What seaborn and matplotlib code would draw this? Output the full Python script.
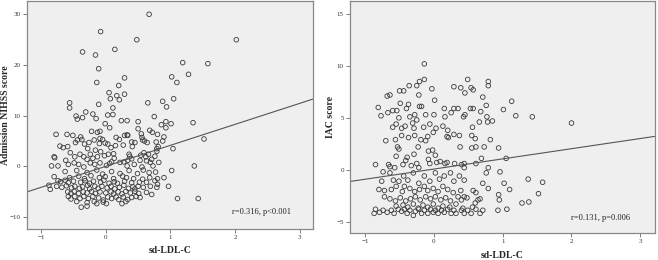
import numpy as np
import matplotlib
matplotlib.use('Agg')
import matplotlib.pyplot as plt
import seaborn as sns

# sd-LDL-C vs admission NIHSS score (left panel)
nihss_pts = [
    (0.67, 29.9), (-0.08, 26.5), (0.48, 24.9), (2.02, 24.9), (-0.36, 22.5), (0.14, 23.0),
    (-0.16, 21.9), (1.19, 20.4), (1.58, 20.2), (-0.11, 19.2), (1.28, 18.1), (1.02, 17.6),
    (0.29, 17.4), (-0.14, 16.5), (1.10, 16.5), (0.20, 15.9), (0.05, 14.5), (0.29, 14.2),
    (0.17, 13.9), (0.07, 13.3), (0.21, 13.1), (1.05, 13.3), (0.65, 12.5), (0.88, 12.8),
    (0.94, 11.7), (-0.56, 12.5), (-0.56, 11.5), (-0.11, 12.2), (0.11, 11.5), (-0.31, 10.7),
    (-0.20, 10.3), (-0.46, 9.9), (-0.44, 9.3), (-0.36, 9.6), (-0.15, 9.4), (0.03, 10.1),
    (0.11, 10.2), (0.24, 9.0), (0.33, 9.0), (0.75, 9.8), (0.50, 8.8), (0.93, 8.8),
    (0.86, 8.2), (1.01, 8.4), (1.35, 8.6), (-0.01, 8.4), (0.06, 7.6), (0.50, 7.4),
    (0.93, 7.6), (-0.77, 6.3), (-0.60, 6.3), (0.68, 7.1), (0.72, 6.7), (0.80, 6.3),
    (-0.51, 6.1), (-0.39, 5.8), (-0.13, 6.7), (-0.09, 6.9), (-0.22, 6.9), (0.29, 6.1),
    (0.33, 6.2), (0.55, 6.4), (1.52, 5.4), (0.90, 5.8), (0.56, 5.7),
    (-0.71, 4.0), (-0.66, 3.7), (-0.59, 3.9), (-0.44, 5.2), (-0.47, 4.7), (-0.37, 5.3),
    (-0.33, 4.4), (-0.26, 4.7), (-0.28, 3.5), (-0.18, 5.2), (-0.09, 5.5), (-0.05, 5.3),
    (-0.01, 4.6), (0.03, 4.4), (-0.10, 4.5), (-0.16, 3.2), (-0.08, 2.9), (0.08, 3.7),
    (0.15, 4.1), (0.16, 5.7), (0.21, 5.3), (0.27, 4.2), (0.34, 6.1), (0.40, 4.8),
    (0.45, 4.7), (0.41, 3.9), (0.57, 5.2), (0.60, 5.0), (0.64, 4.7), (0.78, 4.8),
    (0.88, 5.0), (0.81, 3.9), (0.79, 3.5), (1.04, 3.5), (1.37, 0.1), (1.02, -0.8),
    (-0.55, 2.7), (-0.48, 1.9), (-0.40, 2.4), (-0.34, 1.9), (-0.24, 2.4), (-0.29, 1.4),
    (-0.20, 1.6), (-0.13, 1.9), (-0.02, 2.1), (0.04, 2.4), (0.12, 2.5), (0.13, 1.6),
    (0.36, 2.4), (0.37, 2.0), (0.40, 1.5), (0.54, 2.2), (0.59, 2.7), (0.66, 2.4),
    (0.62, 1.9), (0.71, 1.4), (0.76, 2.0), (0.79, 3.0), (-0.80, 1.9), (-0.79, 1.7),
    (-0.84, 0.1), (-0.74, 0.1), (-0.62, 1.2), (-0.58, 0.4), (-0.49, 0.7), (-0.42, 0.4),
    (-0.34, -0.1), (-0.24, 0.7), (-0.17, 0.4), (-0.09, 0.7), (0.01, 0.2), (0.06, 0.6),
    (0.09, 0.9), (0.22, 0.8), (0.28, 0.9), (0.34, 1.2), (0.33, 0.1), (0.44, 0.4),
    (0.53, 1.2), (0.63, 1.1), (0.69, 0.8), (0.73, 0.1), (0.82, 0.8), (0.56, -0.1),
    (-0.63, -1.0), (-0.45, -0.8), (-0.29, -1.2), (-0.14, -0.7), (-0.05, -1.5), (0.09, -1.0),
    (0.22, -1.4), (0.36, -0.8), (0.49, -1.4), (0.58, -0.7), (0.67, -1.2), (0.77, -1.1),
    (-0.80, -2.0), (-0.56, -2.2), (-0.42, -1.9), (-0.33, -2.4), (-0.23, -1.8), (-0.10, -2.2),
    (-0.01, -2.0), (0.12, -2.4), (0.26, -1.9), (0.32, -2.2), (0.43, -2.4), (0.57, -2.5),
    (0.68, -2.2), (0.80, -2.4), (0.90, -2.2),
    (-0.88, -3.7), (-0.74, -2.8), (-0.70, -3.0), (-0.63, -2.7), (-0.58, -3.2), (-0.50, -2.9),
    (-0.39, -3.1), (-0.32, -2.8), (-0.25, -3.3), (-0.19, -2.9), (-0.08, -3.1), (-0.03, -2.7),
    (0.05, -3.3), (0.13, -3.0), (0.18, -3.3), (0.29, -2.9), (0.40, -3.2), (0.52, -3.1),
    (0.63, -3.1), (0.76, -2.8), (0.80, -3.5),
    (-0.86, -4.5), (-0.76, -3.9), (-0.68, -4.1), (-0.61, -3.8), (-0.53, -4.2), (-0.48, -3.9),
    (-0.41, -4.3), (-0.36, -4.0), (-0.28, -3.7), (-0.25, -4.4), (-0.17, -3.9), (-0.12, -4.3),
    (-0.06, -3.9), (0.02, -4.2), (0.08, -3.9), (0.14, -4.4), (0.21, -4.1), (0.28, -3.7),
    (0.35, -4.3), (0.42, -4.0), (0.45, -4.4), (0.50, -3.9), (0.58, -4.1), (0.69, -3.9),
    (0.79, -4.1), (0.97, -3.9),
    (-0.59, -5.0), (-0.54, -5.3), (-0.49, -4.9), (-0.42, -5.3), (-0.35, -5.0), (-0.29, -5.2),
    (-0.22, -4.9), (-0.16, -5.3), (-0.09, -5.0), (0.00, -5.2), (0.08, -5.0), (0.12, -5.4),
    (0.19, -5.0), (0.25, -5.4), (0.31, -4.9), (0.38, -5.2), (0.45, -4.9), (0.51, -5.3),
    (0.63, -5.1), (0.71, -5.5),
    (-0.58, -5.9), (-0.54, -6.4), (-0.48, -5.9), (-0.40, -6.3), (-0.34, -5.9), (-0.27, -6.3),
    (-0.20, -5.9), (-0.11, -6.2), (-0.04, -6.6), (0.03, -6.0), (0.09, -6.3), (0.16, -6.0),
    (0.20, -6.5), (0.27, -6.0), (0.34, -6.5), (0.40, -6.1), (0.47, -5.9), (0.53, -6.1),
    (1.11, -6.3), (1.43, -6.3),
    (-0.45, -6.9), (-0.29, -7.1), (-0.18, -6.9), (-0.14, -7.3), (-0.04, -7.0), (0.01, -7.3),
    (0.25, -7.3), (0.31, -6.9), (-0.38, -8.0), (-0.29, -7.8),
]

# sd-LDL-C vs IAC score (right panel)
iac_pts = [
    (-0.14, 10.2), (-0.14, 8.7), (-0.21, 8.5), (-0.25, 8.1), (-0.36, 8.1), (-0.03, 7.8),
    (-0.64, 7.2), (-0.68, 7.1), (-0.50, 7.6), (-0.44, 7.6), (-0.22, 7.2), (0.29, 8.0),
    (0.39, 7.9), (0.49, 8.7), (0.45, 7.4), (0.54, 7.9), (0.57, 7.7), (0.79, 8.5),
    (0.79, 8.1), (0.71, 7.0), (0.01, 6.7), (-0.49, 6.4), (-0.37, 6.3), (0.76, 6.2),
    (1.13, 6.6), (1.01, 5.8), (1.19, 5.2), (1.43, 5.1), (2.00, 4.5), (-0.81, 6.0),
    (-0.77, 5.2), (-0.60, 5.7), (-0.54, 5.7), (-0.67, 5.5), (-0.40, 5.9), (-0.21, 6.1),
    (-0.18, 6.1), (-0.28, 5.3), (-0.35, 5.1), (-0.25, 4.8), (-0.12, 5.3), (0.00, 5.3),
    (0.15, 5.9), (0.16, 5.1), (0.29, 5.9), (0.35, 5.9), (0.25, 5.5), (0.43, 5.1),
    (0.45, 5.3), (0.53, 5.9), (0.57, 5.9), (0.68, 5.6), (0.77, 5.1), (0.85, 4.7),
    (0.78, 4.6), (0.66, 4.6), (0.56, 4.1), (-0.51, 5.0), (-0.55, 4.4), (-0.60, 4.1),
    (-0.47, 4.0), (-0.42, 4.2), (-0.31, 4.5), (-0.29, 4.0), (-0.15, 4.1), (-0.06, 4.4),
    (0.03, 4.0), (0.13, 4.2), (0.20, 3.8), (-0.01, 3.6), (-0.09, 3.2), (-0.19, 2.9),
    (-0.28, 3.3), (-0.37, 3.1), (-0.47, 3.3), (-0.56, 2.9), (-0.70, 2.8), (0.19, 3.2),
    (0.21, 3.1), (0.29, 3.4), (0.37, 3.3), (0.55, 3.3), (0.60, 3.0), (0.82, 2.9),
    (-0.53, 2.2), (-0.51, 2.0), (-0.12, 2.8), (-0.23, 2.2), (-0.29, 1.5), (-0.08, 1.8),
    (-0.02, 1.9), (0.02, 1.4), (0.38, 2.2), (0.55, 2.1), (0.61, 2.2), (0.73, 2.2),
    (0.94, 2.1), (1.05, 1.1), (0.69, 1.1), (0.61, 0.6), (-0.55, 1.3), (-0.39, 1.2),
    (-0.41, 0.9), (-0.45, 0.5), (-0.85, 0.5), (-0.66, 0.5), (-0.64, 0.3), (-0.57, 0.2),
    (-0.33, 0.4), (-0.25, 0.6), (-0.22, 0.2), (-0.08, 1.0), (-0.06, 0.6), (0.04, 0.7),
    (0.09, 0.8), (0.16, 0.6), (0.19, 0.7), (0.30, 0.6), (0.40, 0.5), (0.44, 0.6),
    (0.44, 0.2), (0.79, 0.2), (0.76, -0.3), (0.96, -0.2), (1.02, -1.3), (1.10, -1.9),
    (1.37, -0.9), (1.58, -1.2), (1.52, -2.3), (1.28, -3.2), (1.38, -3.1), (0.94, -2.4),
    (0.95, -2.9), (0.93, -3.9), (1.06, -3.8), (0.79, -1.8), (0.71, -1.3), (0.61, -2.2),
    (0.57, -2.0), (0.64, -2.9), (0.67, -2.8), (0.56, -3.6), (0.60, -3.2), (0.48, -2.7),
    (0.44, -2.6), (0.39, -2.0), (0.44, -1.0), (0.37, -0.6), (0.29, -1.1), (0.24, -0.3),
    (0.15, -0.6), (0.08, -0.9), (0.02, -0.3), (-0.06, -1.1), (-0.14, -0.6), (-0.22, -1.3),
    (-0.30, -0.3), (-0.38, -1.0), (-0.44, -0.6), (-0.51, -1.1), (-0.59, -1.0), (-0.64, -0.3),
    (-0.74, -0.2), (-0.76, -1.1), (-0.72, -2.0), (-0.80, -1.9), (-0.72, -2.6), (-0.62, -1.9),
    (-0.55, -1.6), (-0.46, -2.1), (-0.43, -1.6), (-0.35, -1.8), (-0.28, -2.1), (-0.21, -1.9),
    (-0.14, -1.6), (-0.09, -2.0), (-0.01, -1.8), (0.06, -2.1), (0.13, -1.6), (0.20, -1.9),
    (0.28, -2.2), (0.35, -2.6), (0.40, -2.9), (0.32, -3.3), (0.24, -3.0), (0.17, -2.7),
    (0.10, -2.9), (0.02, -2.6), (-0.05, -2.8), (-0.12, -2.6), (-0.20, -2.9), (-0.27, -2.6),
    (-0.34, -2.8), (-0.41, -3.0), (-0.49, -2.7), (-0.56, -3.0), (-0.64, -2.8), (-0.45, -3.4),
    (-0.30, -3.3), (-0.16, -3.4), (-0.01, -3.3), (0.13, -3.5),
    (-0.87, -4.2), (-0.85, -3.8), (-0.79, -4.1), (-0.74, -3.9), (-0.68, -4.1), (-0.62, -3.9),
    (-0.58, -4.2), (-0.52, -3.8), (-0.47, -4.0), (-0.43, -3.8), (-0.39, -4.2), (-0.35, -3.9),
    (-0.30, -4.4), (-0.27, -4.0), (-0.22, -3.8), (-0.18, -4.2), (-0.14, -3.9), (-0.09, -4.2),
    (-0.05, -3.8), (-0.01, -4.1), (0.02, -3.9), (0.06, -4.2), (0.11, -3.9), (0.15, -4.1),
    (0.20, -3.8), (0.25, -4.2), (0.29, -3.9), (0.32, -4.2), (0.40, -3.9), (0.44, -4.2),
    (0.49, -3.9), (0.54, -4.2), (0.61, -3.8), (0.67, -4.2), (0.71, -3.9),
    (-0.55, -3.5), (-0.38, -3.6), (-0.23, -3.7), (-0.09, -3.6), (0.06, -3.7), (0.23, -3.6),
    (0.42, -3.7),
]

# fitted lines (intercept, slope)
nihss_fit = (0.03, 4.12)
iac_fit = (0.07, 0.98)

x_ticks = [-1, 0, 1, 2, 3]
nihss_ticks = [-10, 0, 10, 20, 30]
iac_ticks = [-5, 0, 5, 10, 15]
nihss_stat = "r=0.316, p<0.001"
iac_stat = "r=0.131, p=0.006"

sns.set_style("white")
plt.rcParams['font.family'] = ['Liberation Serif', 'DejaVu Serif']

fig = plt.figure(figsize=(6.58, 2.60), dpi=100)
ax1 = fig.add_axes([0.041, 0.119, 0.435, 0.877])
ax2 = fig.add_axes([0.532, 0.105, 0.463, 0.891])

panels = [
    (ax1, nihss_pts, nihss_fit, nihss_ticks, (-12.3, 32.5), 'Admission NIHSS score',
     nihss_stat, (1.96, -8.95), (-0.058, 0.5), (0.5, -0.075)),
    (ax2, iac_pts, iac_fit, iac_ticks, (-6.06, 16.25), 'IAC score',
     iac_stat, (2.0, -4.65), (-0.05, 0.5), (0.5, -0.08)),
]

for ax, pts, fit, yticks, ylim, ylabel, stat, stat_pos, ylab_xy, xlab_xy in panels:
    xs, ys = zip(*pts)
    ax.set_facecolor('#efefef')
    sns.scatterplot(x=list(xs), y=list(ys), ax=ax, marker='o', s=11,
                    facecolor='none', edgecolor='#3a3a3a', linewidth=0.6)
    xlim = (-1.22, 3.21)
    line_x = np.array(xlim)
    ax.plot(line_x, fit[0] + fit[1] * line_x, color='#555555', lw=0.8)
    ax.set_xlim(xlim)
    ax.set_ylim(ylim)
    ax.set_xticks(x_ticks)
    ax.set_yticks(yticks)
    ax.tick_params(axis='both', direction='out', length=3, width=0.6, color='#666666',
                   labelsize=5, pad=1.5, labelcolor='#333333')
    ax.tick_params(left=True, bottom=True)
    for sp in ax.spines.values():
        sp.set_color('#888888')
        sp.set_linewidth(0.9)
    ax.set_xlabel('sd-LDL-C', fontsize=7, fontweight='bold')
    ax.set_ylabel(ylabel, fontsize=7, fontweight='bold')
    ax.yaxis.set_label_coords(*ylab_xy)
    ax.xaxis.set_label_coords(*xlab_xy)
    ax.text(stat_pos[0], stat_pos[1], stat, fontsize=6, va='center', ha='left', color='#222222')

fig.savefig('out.png', dpi=100)
